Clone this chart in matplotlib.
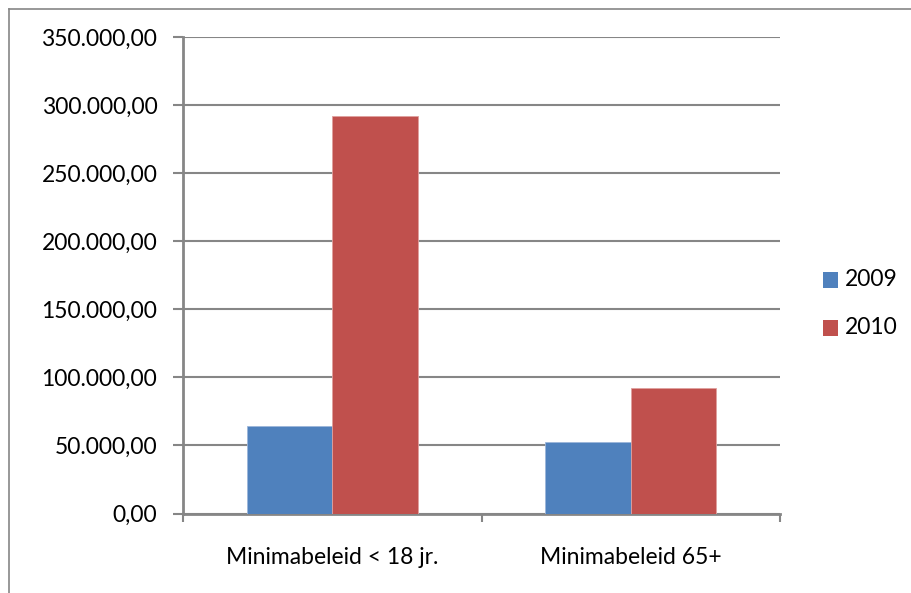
import matplotlib.pyplot as plt
import matplotlib.lines as mlines
import matplotlib.patches as patches
import numpy as np

categories = ['Minimabeleid < 18 jr.', 'Minimabeleid 65+']
years = ['2009', '2010']
values_2009 = [64200, 52200]
values_2010 = [292000, 91900]
colors = ['#4F81BD', '#C0504D']
grid_color = '#868686'

plt.rcParams['font.family'] = ['Lato', 'DejaVu Sans']
fs = 16.5

fig = plt.figure(figsize=(9.11, 5.93), dpi=100)
ax = fig.add_axes([183 / 911, 1 - 513.5 / 593, (780 - 183) / 911, (513.5 - 37.3) / 593])

x = np.arange(len(categories))
w = 1 / 3.5
ax.bar(x - w / 2, values_2009, w, color=colors[0], edgecolor='#9CB6DA', linewidth=0.6, label=years[0], zorder=3)
ax.bar(x + w / 2, values_2010, w, color=colors[1], edgecolor='#E0A09E', linewidth=0.6, label=years[1], zorder=3)

ax.set_xlim(-0.5, len(categories) - 0.5)
ax.set_ylim(0, 350000)
yt = np.arange(0, 350001, 50000)
ax.set_yticks(yt)
ax.set_yticklabels([f'{v:,.2f}'.replace(',', ' ').replace('.', ',').replace(' ', '.') for v in yt], fontsize=fs)
ax.yaxis.grid(True, color=grid_color, linewidth=1.5, zorder=0)

ax.set_xticks(x)
ax.set_xticklabels(categories, fontsize=fs)
ax.tick_params(axis='x', length=0, pad=24)
ax.set_xticks([-0.5, 0.5, 1.5], minor=True)
ax.tick_params(axis='x', which='minor', length=6, width=1.5, color=grid_color, direction='out')
ax.tick_params(axis='y', length=7.5, width=1.5, color=grid_color, direction='out', pad=11)

for s in ['top', 'right']:
    ax.spines[s].set_visible(False)
for s in ['left', 'bottom']:
    ax.spines[s].set_color(grid_color)
    ax.spines[s].set_linewidth(2)

# legend drawn by hand to the right of the plot
for i, (yr, c) in enumerate(zip(years, colors)):
    yc = 1 - (280 + 48 * i) / 593
    fig.add_artist(patches.Rectangle((823 / 911, yc - 8 / 593), 15 / 911, 16 / 593,
                                     facecolor=c, edgecolor='none', transform=fig.transFigure))
    fig.text(845 / 911, yc, yr, fontsize=fs, va='center', ha='left')

# chart outer border (only left and top edges fall inside the image)
fig.add_artist(mlines.Line2D([8.5 / 911, 8.5 / 911], [0, 1 - 8.5 / 593], color=grid_color, linewidth=1.2))
fig.add_artist(mlines.Line2D([8.5 / 911, 1], [1 - 8.5 / 593, 1 - 8.5 / 593], color=grid_color, linewidth=1.2))

fig.savefig('out.png', dpi=100)
